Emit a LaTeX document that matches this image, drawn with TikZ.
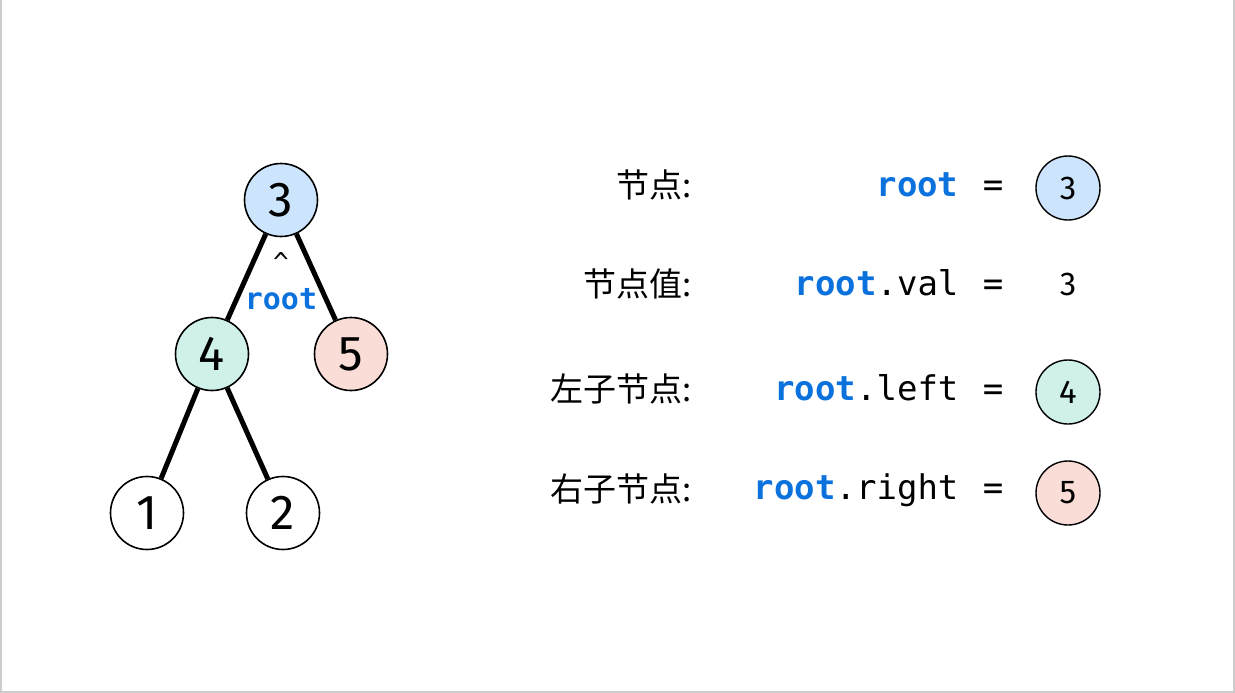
\documentclass[tikz,border=0pt]{standalone}
\usepackage{fontspec}
\setmainfont{Fira Sans}
\setmonofont{DejaVu Sans Mono}
\newfontfamily\cjk{Noto Sans CJK SC}
\usepackage{tikz}
\definecolor{nodeblue}{HTML}{CCE4FC}
\definecolor{nodegreen}{HTML}{CFF1EA}
\definecolor{nodered}{HTML}{F9DDD6}
\definecolor{codeblue}{HTML}{0B72DD}
\definecolor{framegray}{HTML}{CCCCCC}
\newcommand{\rootkw}{{\bfseries\color{codeblue}root}}

\tikzset{
    treenode/.style={circle, draw=black, line width=1.6pt, minimum size=73pt, inner sep=0pt, font=\fontsize{49}{49}\selectfont},
    smallnode/.style={circle, draw=black, line width=1.4pt, minimum size=64pt, inner sep=0pt, font=\fontsize{33}{33}\selectfont},
    edge/.style={line width=5pt, black},
    label/.style={anchor=base east, font=\cjk\fontsize{33}{33}\selectfont},
    code/.style={anchor=base east, font=\ttfamily\fontsize{34}{34}\selectfont},
}

\begin{document}
\begin{tikzpicture}[x=1pt, y=-1pt]
            \useasboundingbox (0,0) rectangle (1235,693);
            \draw[framegray, line width=2pt] (1,0) -- (1,692) -- (1234,692) -- (1234,0);

            % tree
            \node[treenode, fill=nodeblue] (n3) at (281,200) {3};
            \node[treenode, fill=nodegreen] (n4) at (212,354) {4};
            \node[treenode, fill=nodered] (n5) at (351,354) {5};
            \node[treenode, fill=white] (n1) at (147,513) {1};
            \node[treenode, fill=white] (n2) at (283,513) {2};

            \draw[edge] (n3) -- (n4);
            \draw[edge] (n3) -- (n5);
            \draw[edge] (n4) -- (n1);
            \draw[edge] (n4) -- (n2);

            \node[font=\ttfamily\fontsize{26}{26}\selectfont] (caret) at (281,262) {\^{}};
            \node[font=\ttfamily\fontsize{30}{30}\selectfont] (treeroot) at (281,299) {\rootkw};

            % labels
            \node[label] (l1) at (695,197) {节点:};
            \node[label] (l2) at (695,296) {节点值:};
            \node[label] (l3) at (695,401) {左子节点:};
            \node[label] (l4) at (695,501) {右子节点:};

            \node[code] (c1) at (962,196) {\rootkw};
            \node[code] (c2) at (962,295) {\rootkw.val};
            \node[code] (c3) at (962,400) {\rootkw.left};
            \node[code] (c4) at (962,499) {\rootkw.right};

            \node[code, anchor=base] (e1) at (993,196) {=};
            \node[code, anchor=base] (e2) at (993,295) {=};
            \node[code, anchor=base] (e3) at (993,400) {=};
            \node[code, anchor=base] (e4) at (993,499) {=};

            \node[smallnode, fill=nodeblue] (v1) at (1068,188) {3};
            \node[font=\fontsize{33}{33}\selectfont] (v2) at (1068,284) {3};
            \node[smallnode, fill=nodegreen] (v3) at (1068,392) {4};
            \node[smallnode, fill=nodered] (v4) at (1068,493) {5};

        \end{tikzpicture}
\end{document}
